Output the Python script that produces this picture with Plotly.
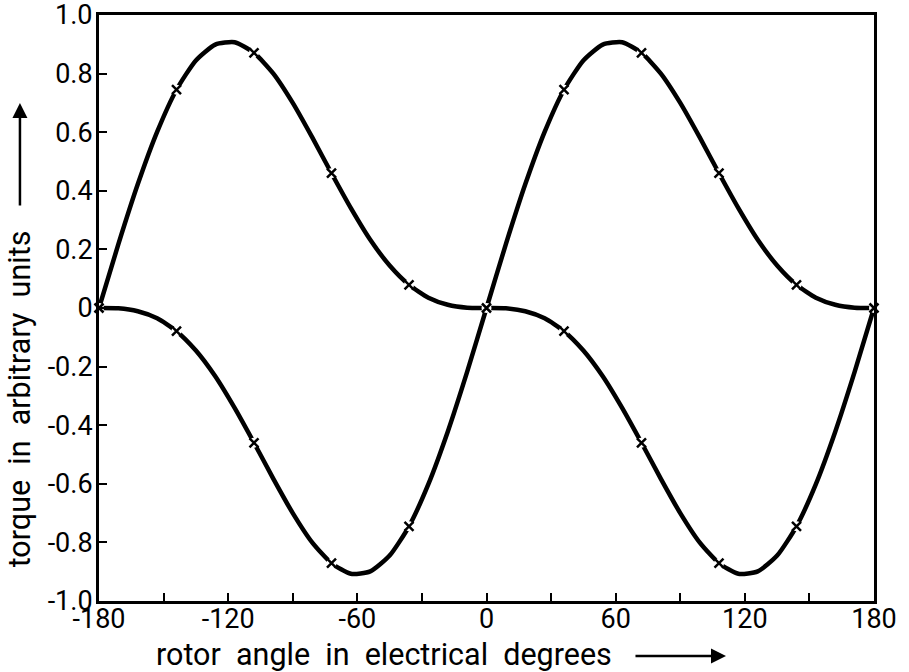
import plotly.graph_objects as go

# rotor angle (electrical degrees)
angle = [-180, -171, -162, -153, -144, -135, -126, -117, -108, -99, -90, -81, -72, -63, -54, -45, -36, -27, -18, -9,
         0, 9, 18, 27, 36, 45, 54, 63, 72, 81, 90, 99, 108, 117, 126, 135, 144, 153, 162, 171, 180]

# torque curve A (rises from -180)
torque_a = [0, 0.218, 0.422, 0.601, 0.745, 0.845, 0.899, 0.907, 0.871, 0.800, 0.700, 0.583, 0.460, 0.341, 0.233, 0.145, 0.079, 0.035, 0.011, 0.001,
            0, -0.001, -0.011, -0.035, -0.079, -0.145, -0.233, -0.341, -0.460, -0.583, -0.700, -0.800, -0.871, -0.907, -0.899, -0.845, -0.745, -0.601, -0.422, -0.218, 0]

# torque curve B (falls from -180)
torque_b = [0, -0.001, -0.011, -0.035, -0.079, -0.145, -0.233, -0.341, -0.460, -0.583, -0.700, -0.800, -0.871, -0.907, -0.899, -0.845, -0.745, -0.601, -0.422, -0.218,
            0, 0.218, 0.422, 0.601, 0.745, 0.845, 0.899, 0.907, 0.871, 0.800, 0.700, 0.583, 0.460, 0.341, 0.233, 0.145, 0.079, 0.035, 0.011, 0.001, 0]

# measured points (crosses)
mark_x = [-180, -144, -108, -72, -36, 0, 36, 72, 108, 144, 180,
          -144, -108, -72, -36, 36, 72, 108, 144]
mark_y = [0, 0.745, 0.871, 0.46, 0.079, 0, -0.079, -0.46, -0.871, -0.745, 0,
          -0.079, -0.46, -0.871, -0.745, 0.745, 0.871, 0.46, 0.079]

x_tickvals = [-180, -120, -60, 0, 60, 120, 180]
x_ticktext = ["-180", "-120", "-60", "0", "60", "120", "180"]
y_tickvals = [1.0, 0.8, 0.6, 0.4, 0.2, 0, -0.2, -0.4, -0.6, -0.8, -1.0]
y_ticktext = ["", "0.8", "0.6", "0.4", "0.2", "0", "-0.2", "-0.4", "-0.6", "-0.8", "-1.0"]
y_top_label = "1.0"

FONT = "Roboto, Liberation Sans, Arial"
TICK_SIZE = 27
TITLE_SIZE = 30.5

fig = go.Figure()
for ys in (torque_a, torque_b):
    fig.add_trace(go.Scatter(x=angle, y=ys, mode="lines",
                             line=dict(color="black", width=4.5, shape="spline", smoothing=0.6),
                             hoverinfo="skip", showlegend=False))
fig.add_trace(go.Scatter(x=mark_x, y=mark_y, mode="markers",
                         marker=dict(symbol="circle", size=10, color="white", line=dict(width=0)),
                         showlegend=False, cliponaxis=False))
fig.add_trace(go.Scatter(x=mark_x, y=mark_y, mode="markers",
                         marker=dict(symbol="x-thin", size=9, color="black", line=dict(width=2.5, color="black")),
                         showlegend=False, cliponaxis=False))

fig.update_xaxes(range=[-180, 180], tickvals=x_tickvals, ticktext=x_ticktext,
                 minor=dict(tickvals=[-150, -90, -30, 30, 90, 150], ticks="inside", ticklen=8, tickwidth=2, tickcolor="black"),
                 ticks="inside", ticklen=8, tickwidth=2, tickcolor="black",
                 showline=True, linecolor="black", linewidth=3, mirror=True,
                 showgrid=False, zeroline=False, ticklabelstandoff=-8,
                 tickfont=dict(family=FONT, size=TICK_SIZE, color="black"))
fig.update_yaxes(range=[-1.0, 1.0], tickvals=y_tickvals, ticktext=y_ticktext,
                 ticks="inside", ticklen=8, tickwidth=2, tickcolor="black",
                 showline=True, linecolor="black", linewidth=3, mirror=True,
                 showgrid=False, zeroline=False, ticklabelstandoff=-2,
                 tickfont=dict(family=FONT, size=TICK_SIZE, color="black"))

fig.update_layout(
    width=909, height=672,
    margin=dict(l=99, r=30, t=15, b=71),
    plot_bgcolor="white", paper_bgcolor="white",
    annotations=[
        dict(text=y_top_label, xref="paper", yref="y", x=0, y=1.0, xshift=-5,
             showarrow=False, xanchor="right", yanchor="middle",
             font=dict(family=FONT, size=TICK_SIZE, color="black")),
        dict(text="rotor  angle  in  electrical  degrees", xref="paper", yref="paper",
             x=0.368, y=-0.0915, showarrow=False, xanchor="center", yanchor="middle",
             font=dict(family=FONT, size=TITLE_SIZE, color="black")),
        dict(text="torque  in  arbitrary  units", xref="paper", yref="paper",
             x=-0.1026, y=0.345, showarrow=False, textangle=-90, xanchor="center", yanchor="middle",
             font=dict(family=FONT, size=TITLE_SIZE, color="black")),
        dict(text="", xref="paper", yref="paper", x=0.809, y=-0.094, ax=-92, ay=0,
             showarrow=True, arrowhead=2, arrowsize=1.2, arrowwidth=2.5, arrowcolor="black"),
        dict(text="", xref="paper", yref="paper", x=-0.102, y=0.85, ax=0, ay=104,
             showarrow=True, arrowhead=2, arrowsize=1.2, arrowwidth=2.5, arrowcolor="black"),
    ],
)

fig.write_html("out.html")
